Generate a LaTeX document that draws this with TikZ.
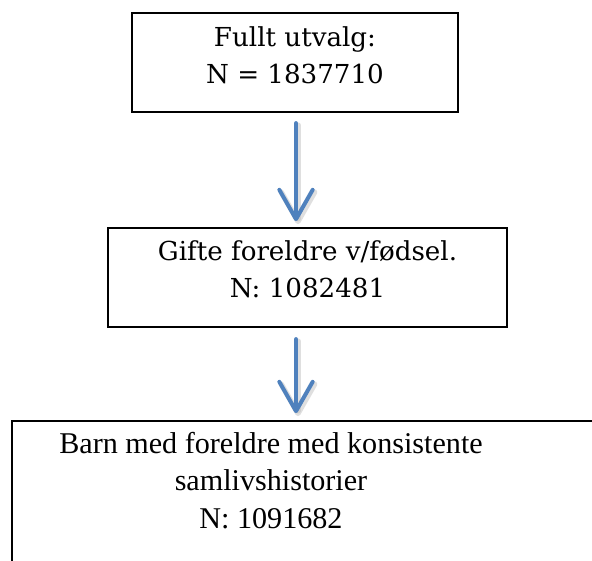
\documentclass[tikz,border=0pt]{standalone}
\usepackage{fontspec}
\setmainfont{Liberation Serif}
\newfontfamily\camfont{DejaVu Serif}
\usetikzlibrary{arrows.meta,calc}
\definecolor{arrblue}{HTML}{4F81BD}
\tikzset{
  boxframe/.style={draw=black, line width=1.7pt, inner sep=0pt},
  toptext/.style={font=\camfont\fontsize{19.6}{27.75}\selectfont, align=center, inner sep=0pt},
  bottext/.style={font=\fontsize{22.6}{28.1}\selectfont, align=center, inner sep=0pt},
  downarrow/.style={draw=arrblue, line width=3pt, line cap=round,
    -{Straight Barb[length=22pt, width=25pt, line cap=round, line join=round]}},
  arrshadow/.style={draw=black!25, opacity=0.5, line width=4pt, line cap=round,
    -{Straight Barb[length=22pt, width=25pt, line cap=round, line join=round]}}
}
\begin{document}
\begin{tikzpicture}[x=0.75pt,y=-0.75pt]
\useasboundingbox (0,0) rectangle (592,560);
\clip (0,0) rectangle (592,560);
\node[boxframe, minimum width=326*0.75pt, minimum height=99*0.75pt] (box1) at (295,62.5) {};
\node[toptext, anchor=base] (t1) at (295,84) {Fullt utvalg:\\N = 1837710};
\node[boxframe, minimum width=399*0.75pt, minimum height=99*0.75pt] (box2) at (307.5,277.5) {};
\node[toptext, anchor=base] (t2) at (307.5,297) {Gifte foreldre v/fødsel.\\N: 1082481};
\node[boxframe, minimum width=620*0.75pt, minimum height=200*0.75pt, anchor=north west] (box3) at (11,420) {};
\node[bottext, anchor=base] (t3) at (271,528) {Barn med foreldre med konsistente\\samlivshistorier\\N: 1091682};
\coordinate (a1s) at ($(box1.south)+(1,10)$);
\coordinate (a1e) at ($(box1.south)+(1,108)$);
\coordinate (a2s) at ($(box2.south)+(-11.5,11)$);
\coordinate (a2e) at ($(box2.south)+(-11.5,85)$);
\draw[arrshadow] ($(a1s)+(2,2)$) -- ($(a1e)+(2,3)$);
\draw[arrshadow] ($(a2s)+(2,2)$) -- ($(a2e)+(2,3)$);
\draw[downarrow] (a1s) -- (a1e);
\draw[downarrow] (a2s) -- (a2e);
\end{tikzpicture}
\end{document}
